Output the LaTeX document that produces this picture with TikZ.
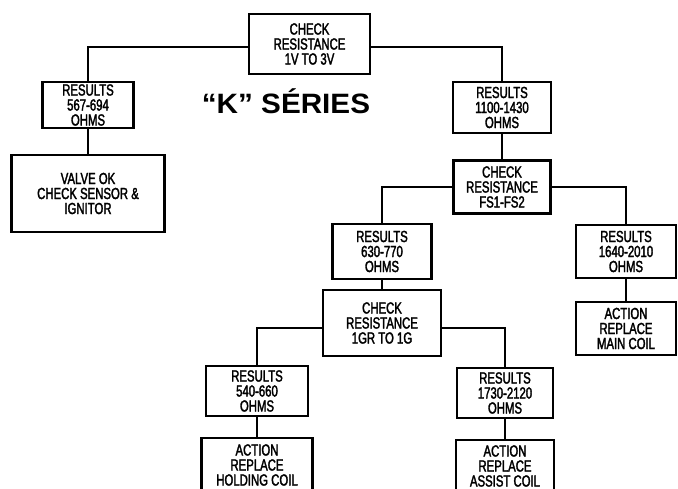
\documentclass[tikz,border=0pt]{standalone}
\usepackage{fontspec}
\setmainfont{Liberation Sans}
\newfontfamily\boxfont[FakeStretch=0.71, FakeBold=2]{Liberation Sans}
\newfontfamily\titlefont[FakeStretch=1.06]{Liberation Sans Bold}
\usepackage{tikz}
\usetikzlibrary{positioning}

\begin{document}
\begin{tikzpicture}[
	x=1pt, y=-1pt,
	box/.style = {draw, rectangle, align=center, line width=2.6pt, inner sep=0pt,
		font=\boxfont\fontsize{16}{15}\selectfont},
	link/.style = {draw, line width=1.8pt}
]
  \clip (0, 0) rectangle (678, 489);
  \useasboundingbox (0, 0) rectangle (678, 489);

  % Define vertices
  \node[box, minimum width=121pt, minimum height=60pt] at (309.5, 44) (chk1) {CHECK \\ RESISTANCE \\ 1V TO 3V};
  \node[box, minimum width=91pt, minimum height=46pt] at (88, 105) (res1) {RESULTS \\ 567-694 \\ OHMS};
  \node[box, minimum width=153pt, minimum height=77pt] at (88, 193.5) (valve) {VALVE OK \\ CHECK SENSOR \& \\ IGNITOR};
  \node[font=\titlefont\fontsize{28}{30}\selectfont] at (286, 101) (title) {“K” SÉRIES};

  \node[box, minimum width=98pt, minimum height=51pt] at (502, 107.5) (res2) {RESULTS \\ 1100-1430 \\ OHMS};
  \node[box, minimum width=97pt, minimum height=53pt] at (502, 187) (chk2) {CHECK \\ RESISTANCE \\ FS1-FS2};

  \node[box, minimum width=99pt, minimum height=55pt] at (382, 251.5) (res3) {RESULTS \\ 630-770 \\ OHMS};
  \node[box, minimum width=118pt, minimum height=66pt] at (382, 323) (chk3) {CHECK \\ RESISTANCE \\ 1GR TO 1G};
  \node[box, minimum width=100pt, minimum height=53pt] at (626, 251.5) (res4) {RESULTS \\ 1640-2010 \\ OHMS};
  \node[box, minimum width=100pt, minimum height=53pt] at (626, 328.5) (main) {ACTION \\ REPLACE \\ MAIN COIL};

  \node[box, minimum width=102pt, minimum height=50pt] at (257, 391) (res5) {RESULTS \\ 540-660 \\ OHMS};
  \node[box, minimum width=111pt, minimum height=54pt] at (257, 465) (hold) {ACTION \\ REPLACE \\ HOLDING COIL};
  \node[box, minimum width=96pt, minimum height=50pt] at (505, 393) (res6) {RESULTS \\ 1730-2120 \\ OHMS};
  \node[box, minimum width=98pt, minimum height=52pt] at (505, 466) (assist) {ACTION \\ REPLACE \\ ASSIST COIL};

  % Edges
  \draw[link] ([yshift=-3pt]chk1.west) -| (res1.north);
  \draw[link] ([yshift=-3pt]chk1.east) -| (res2.north);
  \draw[link] (res1.south) -- (valve.north);
  \draw[link] (res2.south) -- (chk2.north);
  \draw[link] (chk2.west) -| (res3.north);
  \draw[link] (chk2.east) -| (res4.north);
  \draw[link] (res3.south) -- (chk3.north);
  \draw[link] (res4.south) -- (main.north);
  \draw[link] ([yshift=-5pt]chk3.west) -| (res5.north);
  \draw[link] ([yshift=-5pt]chk3.east) -| (res6.north);
  \draw[link] (res5.south) -- (hold.north);
  \draw[link] (res6.south) -- (assist.north);
\end{tikzpicture}
\end{document}
